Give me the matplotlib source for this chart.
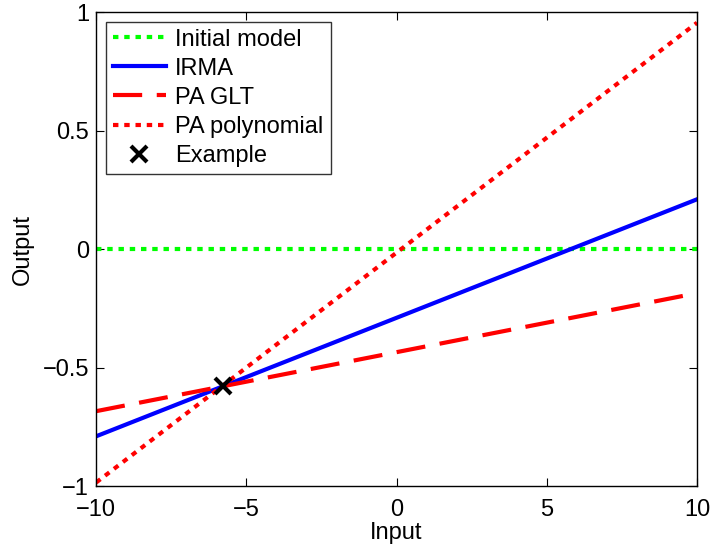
import numpy as np
import matplotlib.pyplot as plt

plt.rcParams['font.family'] = ['Liberation Sans', 'DejaVu Sans']

# input range and the fitted linear models (slope, intercept)
x_input = np.array([-10.0, 10.0])
initial_model = (0.0, 0.0)
irma = (0.05, -0.29)
pa_glt = (0.0249, -0.435)
pa_poly = (0.097, -0.015)
example_x = [-5.78]
example_y = [-0.579]


def line(params):
    return params[0] * x_input + params[1]


fig = plt.figure(figsize=(7.12, 5.48), dpi=100)
ax = fig.add_axes([0.135, 0.113, 0.844, 0.865])

ax.plot(x_input, line(initial_model), color='#00ff00', lw=3, dashes=(1.3, 1.4), label='Initial model')
ax.plot(x_input, line(irma), '-', color='#0000ff', lw=3, label='IRMA')
ax.plot(x_input, line(pa_glt), color='#ff0000', lw=3, dashes=(7, 3.5), label='PA GLT')
ax.plot(x_input, line(pa_poly), color='#ff0000', lw=3, dashes=(1.3, 1.4), label='PA polynomial')
ax.plot(example_x, example_y, 'x', color='black', ms=12, mew=3, label='Example')

ax.set_xlim(-10, 10)
ax.set_ylim(-1, 1)
ax.set_xticks([-10, -5, 0, 5, 10])
ax.set_yticks([-1, -0.5, 0, 0.5, 1])
ax.set_yticklabels(['\u22121', '\u22120.5', '0', '0.5', '1'])
ax.tick_params(direction='in', length=6, labelsize=17, top=True, right=True, pad=5)
ax.tick_params(axis='x', pad=9)
ax.set_xlabel('Input', fontsize=17, labelpad=1)
ax.set_ylabel('Output', fontsize=17, labelpad=6)
for s in ax.spines.values():
    s.set_linewidth(1.0)

leg = ax.legend(loc='upper left', fontsize=17, frameon=True, fancybox=False,
                edgecolor='black', borderaxespad=0.4, handlelength=2.25,
                handletextpad=0.4, labelspacing=0.3, borderpad=0.3)
leg.get_frame().set_linewidth(1.0)

fig.savefig('out.png', dpi=100)
